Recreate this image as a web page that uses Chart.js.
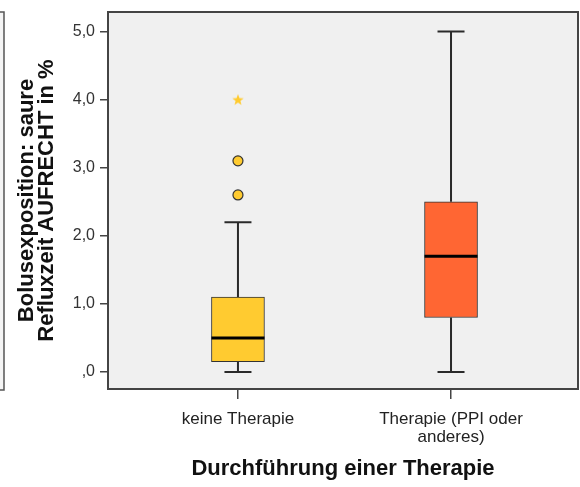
<!DOCTYPE html>
<html>
<head>
<meta charset="utf-8">
<script src="https://cdn.jsdelivr.net/npm/chart.js@4.4.1/dist/chart.umd.min.js"></script>
<style>
  html, body { margin: 0; padding: 0; background: #ffffff; }
  #wrap { width: 580px; height: 487px; position: relative; }
</style>
</head>
<body>
<div id="wrap"><canvas id="c"></canvas></div>
<script>
// Group labels and box-plot statistics per group
const categories = [['keine Therapie'], ['Therapie (PPI oder', 'anderes)']];
const groupPos = [1, 2];
const whiskerLow = [0.0, 0.0];
const q1 = [0.15, 0.8];
const median = [0.5, 1.7];
const q3 = [1.1, 2.5];
const whiskerHigh = [2.2, 5.0];
const outliers = [[2.6, 3.1], []];
const extremes = [[4.0], []];
const yTickValues = [0, 1, 2, 3, 4, 5];
const yTickLabels = [',0', '1,0', '2,0', '3,0', '4,0', '5,0'];

const boxColors = ['#ffcb30', '#ff6633'];
const FONT = '"Liberation Sans", Arial, Helvetica, sans-serif';
Chart.defaults.font.family = FONT;

const outlierPoints = outliers.flatMap((vals, i) => vals.map(v => ({ x: groupPos[i], y: v })));
const extremePoints = extremes.flatMap((vals, i) => vals.map(v => ({ x: groupPos[i], y: v })));

// Small filled five-pointed star used as the marker for extreme values
function makeStar(size, color) {
  const c = document.createElement('canvas');
  c.width = size; c.height = size;
  const g = c.getContext('2d');
  const cx = size / 2, cy = size / 2 + 0.5, ro = size / 2, ri = ro * 0.42;
  g.beginPath();
  for (let k = 0; k < 10; k++) {
    const r = k % 2 === 0 ? ro : ri;
    const ang = -Math.PI / 2 + k * Math.PI / 5;
    const px = cx + r * Math.cos(ang), py = cy + r * Math.sin(ang);
    k === 0 ? g.moveTo(px, py) : g.lineTo(px, py);
  }
  g.closePath();
  g.fillStyle = color;
  g.fill();
  return c;
}
const starMarker = makeStar(12, '#ffcb30');

// Whiskers, medians, plot frame and background
const boxPlotParts = {
  id: 'boxPlotParts',
  beforeDraw(chart) {
    const { ctx, chartArea: a } = chart;
    ctx.save();
    ctx.fillStyle = '#f0f0f0';
    ctx.fillRect(a.left, a.top, a.right - a.left, a.bottom - a.top);
    // edge of the neighbouring panel at the far left
    ctx.fillStyle = '#f4f4f4';
    ctx.fillRect(-10, a.top, 14, a.bottom - a.top + 1);
    ctx.strokeStyle = '#555';
    ctx.lineWidth = 1.5;
    ctx.strokeRect(-10, a.top, 14, a.bottom - a.top + 1);
    ctx.restore();
  },
  beforeDatasetsDraw(chart) {
    const { ctx, scales: { x, y } } = chart;
    ctx.save();
    ctx.strokeStyle = '#2a2a2a';
    ctx.lineWidth = 2;
    groupPos.forEach((g, i) => {
      const px = x.getPixelForValue(g);
      const half = 13.5;
      ctx.beginPath();
      ctx.moveTo(px, y.getPixelForValue(whiskerLow[i]));
      ctx.lineTo(px, y.getPixelForValue(q1[i]));
      ctx.moveTo(px, y.getPixelForValue(q3[i]));
      ctx.lineTo(px, y.getPixelForValue(whiskerHigh[i]));
      ctx.moveTo(px - half, y.getPixelForValue(whiskerLow[i]));
      ctx.lineTo(px + half, y.getPixelForValue(whiskerLow[i]));
      ctx.moveTo(px - half, y.getPixelForValue(whiskerHigh[i]));
      ctx.lineTo(px + half, y.getPixelForValue(whiskerHigh[i]));
      ctx.stroke();
    });
    ctx.restore();
  },
  afterDatasetsDraw(chart) {
    const { ctx, chartArea: a, scales: { y } } = chart;
    const boxMeta = chart.getDatasetMeta(2);
    ctx.save();
    ctx.strokeStyle = '#000';
    ctx.lineWidth = 3;
    groupPos.forEach((g, i) => {
      const bar = boxMeta.data[i];
      const w = bar.width;
      const py = y.getPixelForValue(median[i]);
      ctx.beginPath();
      ctx.moveTo(bar.x - w / 2, py);
      ctx.lineTo(bar.x + w / 2, py);
      ctx.stroke();
    });
    ctx.strokeStyle = '#444';
    ctx.lineWidth = 2;
    ctx.strokeRect(a.left, a.top, a.right - a.left, a.bottom - a.top);
    ctx.restore();
  }
};

new Chart(document.getElementById('c'), {
  data: {
    datasets: [
      {
        type: 'scatter',
        label: 'Extremwerte',
        data: extremePoints,
        pointStyle: starMarker,
        radius: 6
      },
      {
        type: 'scatter',
        label: 'Ausreißer',
        data: outlierPoints,
        pointStyle: 'circle',
        radius: 5,
        backgroundColor: '#ffcb30',
        borderColor: '#333',
        borderWidth: 1.2
      },
      {
        type: 'bar',
        label: 'Interquartilsbereich',
        data: groupPos.map((g, i) => ({ x: g, y: [q1[i], q3[i]] })),
        backgroundColor: boxColors,
        borderColor: '#333',
        borderWidth: 1,
        borderSkipped: false,
        barThickness: 53
      }
    ]
  },
  options: {
    responsive: true,
    maintainAspectRatio: false,
    animation: false,
    devicePixelRatio: 1,
    layout: { autoPadding: false, padding: { top: 12, right: 2, left: 0, bottom: 0 } },
    plugins: { legend: { display: false }, tooltip: { enabled: false } },
    scales: {
      x: {
        type: 'linear',
        offset: false,
        min: 0.39,
        max: 2.596,
        afterBuildTicks: s => { s.ticks = groupPos.map(v => ({ value: v })); },
        afterFit: s => { s.height = 98; s.paddingLeft = 0; s.paddingRight = 0; },
        ticks: {
          callback: v => categories[groupPos.indexOf(v)],
          color: '#222',
          font: { size: 17, lineHeight: '18px' },
          padding: 11,
          maxRotation: 0,
          autoSkip: false
        },
        grid: { offset: false, drawOnChartArea: false, tickLength: 10, color: '#444', lineWidth: 1.5 },
        border: { display: false },
        title: {
          display: true,
          text: 'Durchführung einer Therapie',
          color: '#111',
          font: { size: 22, weight: 'bold', lineHeight: '24px' },
          padding: { top: 0, bottom: 6 }
        }
      },
      y: {
        type: 'linear',
        min: -0.25,
        max: 5.286,
        afterBuildTicks: s => { s.ticks = yTickValues.map(v => ({ value: v })); },
        afterFit: s => { s.width = 108; s.paddingTop = 0; s.paddingBottom = 0; },
        ticks: {
          callback: v => yTickLabels[yTickValues.indexOf(v)],
          color: '#333',
          font: { size: 16 },
          padding: 5
        },
        grid: { drawOnChartArea: false, tickLength: 8, color: '#444', lineWidth: 1.5 },
        border: { display: false },
        title: {
          display: true,
          text: ['Bolusexposition: saure', 'Refluxzeit AUFRECHT in %'],
          color: '#111',
          font: { size: 22, weight: 'bold', lineHeight: '20px' },
          padding: { top: 17, bottom: 0 }
        }
      }
    }
  },
  plugins: [boxPlotParts]
});
</script>
</body>
</html>
